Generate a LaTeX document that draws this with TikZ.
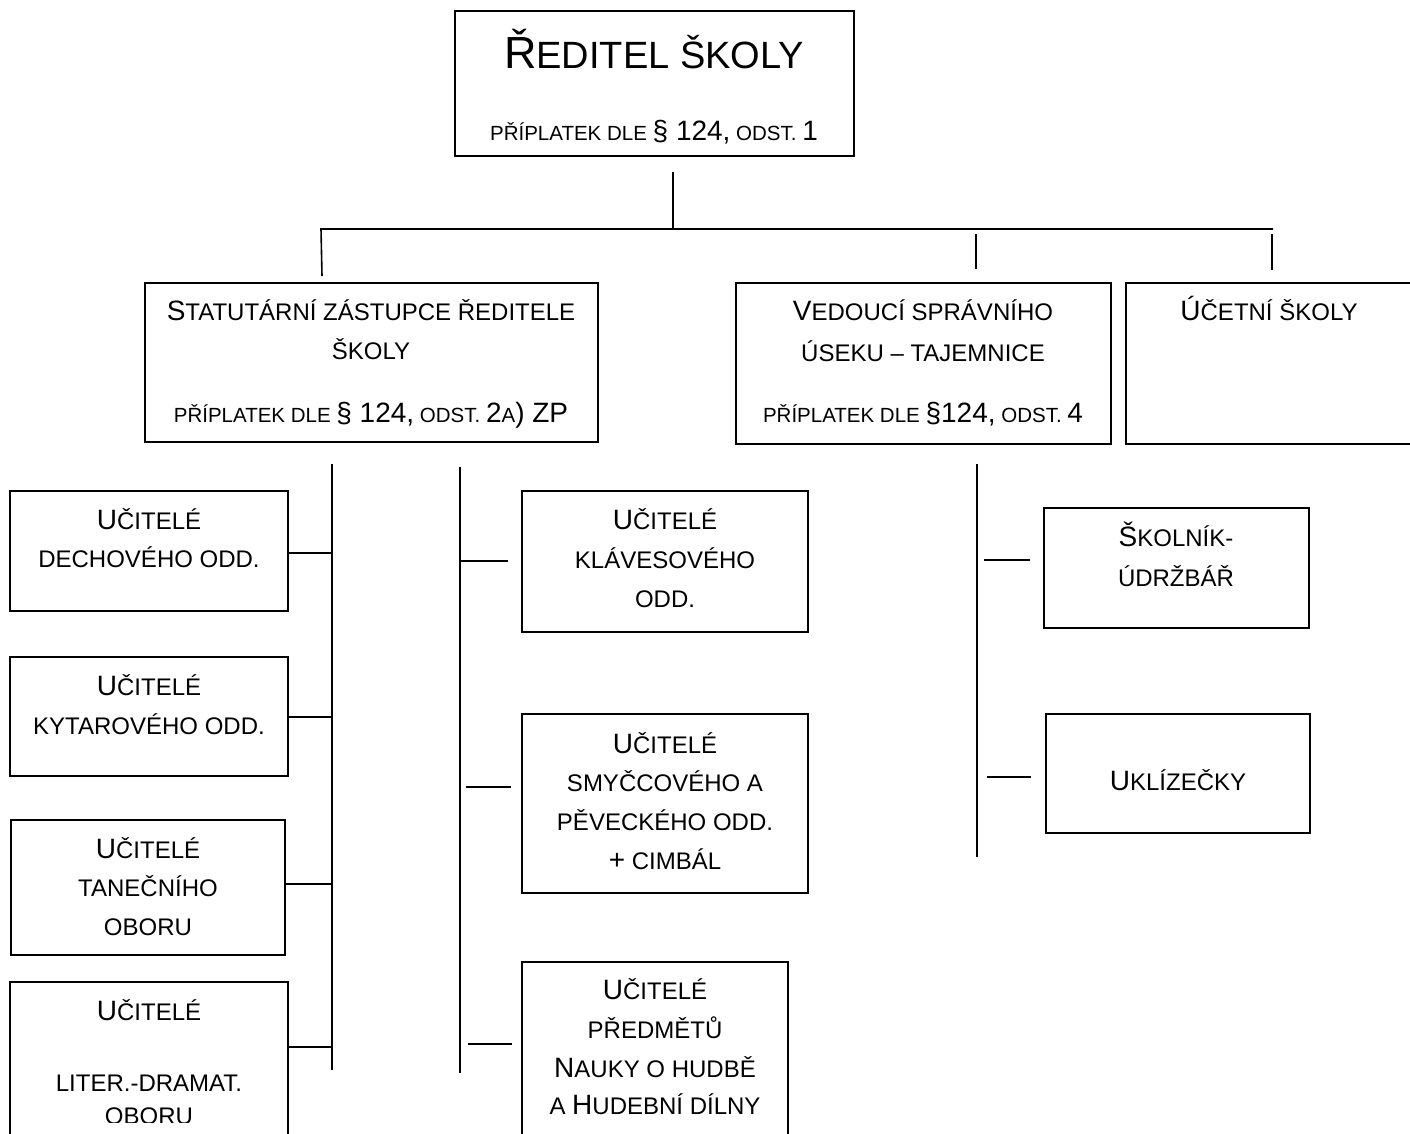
\documentclass[tikz,border=0pt]{standalone}
\usepackage{fontspec}
\setmainfont{Liberation Sans}
\newcommand\Bg[1]{{\fontsize{28}{34}\selectfont #1}}
\newcommand\Tg[1]{{\fontsize{45}{54}\selectfont #1}}
\newcommand\Sm{\fontsize{24}{29}\selectfont}
\newcommand\Pl{\fontsize{20.5}{25}\selectfont}
\newcommand\Ti{\fontsize{38}{46}\selectfont}
\begin{document}
\begin{tikzpicture}[x=1pt,y=-1pt,
  box/.style={draw,line width=1.6pt,anchor=north west,inner sep=0pt,outer sep=0pt},
  txt/.style={anchor=base,inner sep=0pt,font=\Sm},
  ln/.style={line width=1.6pt}]
\useasboundingbox (0,0) rectangle (1410,1133);
\clip (0,0) rectangle (1410,1133);
% boxes
\node[box,minimum width=399pt,minimum height=145pt] (top) at (455,11) {};
\node[box,minimum width=453pt,minimum height=159pt] (stat) at (145,283) {};
\node[box,minimum width=375pt,minimum height=161pt] (ved) at (736,283) {};
\node[box,minimum width=300pt,minimum height=161pt] (uce) at (1126,283) {};
\node[box,minimum width=278pt,minimum height=120pt] (b1) at (10,491) {};
\node[box,minimum width=278pt,minimum height=119pt] (b2) at (10,657) {};
\node[box,minimum width=274pt,minimum height=135pt] (b3) at (11,820) {};
\node[box,minimum width=278pt,minimum height=170pt] (b4) at (10,982) {};
\node[box,minimum width=286pt,minimum height=141pt] (b5) at (522,491) {};
\node[box,minimum width=286pt,minimum height=179pt] (b6) at (522,714) {};
\node[box,minimum width=266pt,minimum height=190pt] (b7) at (522,962) {};
\node[box,minimum width=265pt,minimum height=120pt] (b8) at (1044,508) {};
\node[box,minimum width=264pt,minimum height=119pt] (b9) at (1046,714) {};
% texts
\node[txt,font=\Ti] (t1) at (654,68) {\Tg{Ř}EDITEL ŠKOLY};
\node[txt,font=\Pl] (t2) at (654,140) {PŘÍPLATEK DLE \Bg{§ 124,} ODST. \Bg{1}};
\node[txt] (s1) at (371,320) {\Bg{S}TATUTÁRNÍ ZÁSTUPCE ŘEDITELE};
\node[txt] (s2) at (371,359) {ŠKOLY};
\node[txt,font=\Pl] (s3) at (371,422) {PŘÍPLATEK DLE \Bg{§ 124,} ODST. \Bg{2}A\Bg{) ZP}};
\node[txt] (v1) at (923,320) {\Bg{V}EDOUCÍ SPRÁVNÍHO};
\node[txt] (v2) at (923,361) {ÚSEKU – TAJEMNICE};
\node[txt,font=\Pl] (v3) at (923,422) {PŘÍPLATEK DLE \Bg{§124,} ODST. \Bg{4}};
\node[txt] (u1) at (1269,320) {\Bg{Ú}ČETNÍ ŠKOLY};
\node[txt] (b1a) at (149,529) {\Bg{U}ČITELÉ};
\node[txt] (b1b) at (149,567) {DECHOVÉHO ODD.};
\node[txt] (b2a) at (149,695) {\Bg{U}ČITELÉ};
\node[txt] (b2b) at (149,734) {KYTAROVÉHO ODD.};
\node[txt] (b3a) at (148,858) {\Bg{U}ČITELÉ};
\node[txt] (b3b) at (148,896) {TANEČNÍHO};
\node[txt] (b3c) at (148,935) {OBORU};
\node[txt] (b4a) at (149,1020) {\Bg{U}ČITELÉ};
\node[txt] (b4b) at (149,1091) {LITER.-DRAMAT.};
\begin{scope}
\clip (0,0) rectangle (1410,1122);
\node[txt] (b4c) at (149,1124) {OBORU};
\end{scope}
\node[txt] (b5a) at (665,529) {\Bg{U}ČITELÉ};
\node[txt] (b5b) at (665,568) {KLÁVESOVÉHO};
\node[txt] (b5c) at (665,607) {ODD.};
\node[txt] (b6a) at (665,753) {\Bg{U}ČITELÉ};
\node[txt] (b6b) at (665,791) {SMYČCOVÉHO A};
\node[txt] (b6c) at (665,830) {PĚVECKÉHO ODD.};
\node[txt] (b6d) at (665,869) {\Bg{+} CIMBÁL};
\node[txt] (b7a) at (655,999) {\Bg{U}ČITELÉ};
\node[txt] (b7b) at (655,1038) {PŘEDMĚTŮ};
\node[txt] (b7c) at (655,1077) {\Bg{N}AUKY O HUDBĚ};
\node[txt] (b7d) at (655,1114) {A \Bg{H}UDEBNÍ DÍLNY};
\node[txt] (b8a) at (1176,546) {\Bg{Š}KOLNÍK-};
\node[txt] (b8b) at (1176,586) {ÚDRŽBÁŘ};
\node[txt] (b9a) at (1178,790) {\Bg{U}KLÍZEČKY};
% connector coordinates
\coordinate (topdrop) at (673,172);
\coordinate (busmid) at (673,229);
\coordinate (busL) at (321,229);
\coordinate (busR) at (1273,229);
\coordinate (dropL) at (322,276);
\coordinate (dropV1) at (976,234);
\coordinate (dropV2) at (976,269);
\coordinate (dropU1) at (1272,234);
\coordinate (dropU2) at (1272,270);
\coordinate (lb1) at (332,464);
\coordinate (lb2) at (332,1070);
\coordinate (mb1) at (460,467);
\coordinate (mb2) at (460,1073);
\coordinate (rb1) at (977,464);
\coordinate (rb2) at (977,857);
\coordinate (m5a) at (460,561);
\coordinate (m5b) at (508,561);
\coordinate (m6a) at (466,787);
\coordinate (m6b) at (511,787);
\coordinate (m7a) at (468,1044);
\coordinate (m7b) at (512,1044);
\coordinate (r8a) at (984,560);
\coordinate (r8b) at (1030,560);
\coordinate (r9a) at (987,777);
\coordinate (r9b) at (1031,777);
% connectors
\draw[ln] (topdrop) -- (busmid);
\draw[ln] (dropL) -- (busL) -- (busR);
\draw[ln] (dropV1) -- (dropV2);
\draw[ln] (dropU1) -- (dropU2);
\draw[ln] (lb1) -- (lb2);
\draw[ln] (mb1) -- (mb2);
\draw[ln] (rb1) -- (rb2);
\draw[ln] (b1.east |- 0,553) -- (lb1 |- 0,553);
\draw[ln] (b2.east |- 0,717) -- (lb1 |- 0,717);
\draw[ln] (b3.east |- 0,884) -- (lb1 |- 0,884);
\draw[ln] (b4.east |- 0,1047) -- (lb1 |- 0,1047);
\draw[ln] (m5a) -- (m5b);
\draw[ln] (m6a) -- (m6b);
\draw[ln] (m7a) -- (m7b);
\draw[ln] (r8a) -- (r8b);
\draw[ln] (r9a) -- (r9b);
\end{tikzpicture}
\end{document}
